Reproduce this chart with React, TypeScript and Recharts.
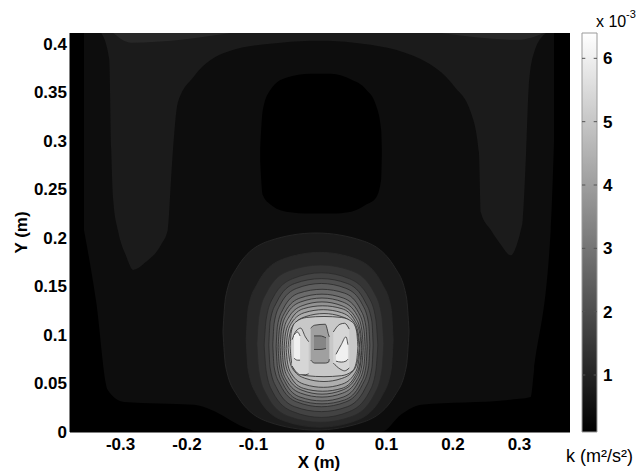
import { Area, ComposedChart, ReferenceArea, ReferenceLine, XAxis, YAxis } from "recharts"

// contour levels of k, in units of 10^-3 m²/s²
const kLevels = [0.1, 0.43, 0.76, 1.09, 1.42, 1.75, 2.08, 2.41, 2.74, 3.07, 3.4, 3.73, 4.06, 4.39, 4.72, 5.05, 5.38, 5.71, 6.04]
const K_MIN = 0.1
const K_MAX = 6.4

const xTicks = [-0.3, -0.2, -0.1, 0, 0.1, 0.2, 0.3]
const yTicks = [0, 0.05, 0.1, 0.15, 0.2, 0.25, 0.3, 0.35, 0.4]
const kTicks = [1, 2, 3, 4, 5, 6]

// each shape: [x, y low, y high] in metres
type Pt = [number, number, number]

const wholePlane: Pt[] = [[-0.376, 0, 0.411], [0.376, 0, 0.411]]

const innerField: Pt[] = [
  [-0.355, 0.208, 0.411], [-0.337, 0.136, 0.411], [-0.319, 0.043, 0.411], [-0.295, 0.031, 0.411],
  [-0.189, 0.028, 0.411], [-0.164, 0.023, 0.411], [-0.114, 0.005, 0.411], [-0.089, 0, 0.411],
  [0.092, 0, 0.411], [0.122, 0.018, 0.411], [0.152, 0.028, 0.411], [0.283, 0.033, 0.411],
  [0.317, 0.036, 0.411], [0.322, 0.064, 0.411], [0.347, 0.208, 0.411], [0.352, 0.3, 0.411],
]

const upperBand: Pt[] = [
  [-0.329, 0.411, 0.411], [-0.317, 0.384, 0.411], [-0.314, 0.291, 0.411], [-0.311, 0.239, 0.411],
  [-0.304, 0.208, 0.411], [-0.292, 0.182, 0.411], [-0.281, 0.167, 0.411], [-0.262, 0.175, 0.411],
  [-0.239, 0.193, 0.411], [-0.229, 0.208, 0.411], [-0.224, 0.26, 0.411], [-0.22, 0.301, 0.411],
  [-0.214, 0.339, 0.411], [-0.19, 0.366, 0.411], [-0.138, 0.392, 0.411], [-0.059, 0.401, 0.411],
  [0, 0.403, 0.411], [0.051, 0.401, 0.411], [0.152, 0.384, 0.411], [0.202, 0.356, 0.411],
  [0.227, 0.329, 0.411], [0.239, 0.288, 0.411], [0.242, 0.226, 0.411], [0.257, 0.208, 0.411],
  [0.272, 0.193, 0.411], [0.287, 0.182, 0.411], [0.296, 0.193, 0.411], [0.302, 0.208, 0.411],
  [0.305, 0.219, 0.411], [0.31, 0.288, 0.411], [0.314, 0.356, 0.411], [0.322, 0.391, 0.411],
  [0.34, 0.411, 0.411],
]

const topWedgeLeft: Pt[] = [[-0.311, 0.411, 0.411], [-0.284, 0.401, 0.411], [-0.134, 0.411, 0.411]]
const topWedgeRight: Pt[] = [[0.182, 0.411, 0.411], [0.298, 0.404, 0.411], [0.337, 0.411, 0.411]]

const upperHole: Pt[] = [
  [-0.09, 0.28, 0.291], [-0.086, 0.244, 0.332], [-0.074, 0.234, 0.353], [-0.051, 0.227, 0.365],
  [-0.014, 0.225, 0.369], [0.017, 0.225, 0.369], [0.047, 0.227, 0.363], [0.069, 0.234, 0.353],
  [0.084, 0.241, 0.337], [0.092, 0.26, 0.311], [0.093, 0.286, 0.291],
]

// jet contours, outermost (level 2) to plateau (level 15)
const ring02: Pt[] = [[-0.146, 0.1035, 0.1035], [-0.142, 0.068, 0.139], [-0.125, 0.038, 0.169], [-0.076, 0.01, 0.197], [-0.006, 0.002, 0.205], [0.064, 0.01, 0.197], [0.113, 0.038, 0.169], [0.13, 0.068, 0.139], [0.134, 0.1035, 0.1035]]
const ring03: Pt[] = [[-0.111, 0.095, 0.095], [-0.108, 0.064, 0.127], [-0.094, 0.037, 0.153], [-0.056, 0.012, 0.178], [0, 0.005, 0.185], [0.055, 0.012, 0.178], [0.093, 0.037, 0.153], [0.107, 0.064, 0.127], [0.11, 0.095, 0.095]]
const ring04: Pt[] = [[-0.095, 0.091, 0.091], [-0.092, 0.063, 0.119], [-0.081, 0.039, 0.143], [-0.047, 0.016, 0.166], [0.001, 0.01, 0.172], [0.048, 0.016, 0.166], [0.082, 0.039, 0.143], [0.093, 0.063, 0.119], [0.096, 0.091, 0.091]]
const ring05: Pt[] = [[-0.084, 0.0895, 0.0895], [-0.081, 0.063, 0.116], [-0.071, 0.041, 0.138], [-0.041, 0.021, 0.158], [0.002, 0.015, 0.164], [0.044, 0.021, 0.158], [0.074, 0.041, 0.138], [0.084, 0.063, 0.116], [0.087, 0.0895, 0.0895]]
const ring06: Pt[] = [[-0.077, 0.0895, 0.0895], [-0.075, 0.066, 0.114], [-0.065, 0.045, 0.134], [-0.038, 0.026, 0.153], [0.002, 0.021, 0.158], [0.041, 0.026, 0.153], [0.068, 0.045, 0.134], [0.078, 0.066, 0.114], [0.08, 0.0895, 0.0895]]
const ring07: Pt[] = [[-0.071, 0.0895, 0.0895], [-0.069, 0.067, 0.112], [-0.06, 0.049, 0.131], [-0.035, 0.031, 0.148], [0.002, 0.026, 0.153], [0.039, 0.031, 0.148], [0.064, 0.049, 0.131], [0.073, 0.067, 0.112], [0.075, 0.0895, 0.0895]]
const ring08: Pt[] = [[-0.066, 0.088, 0.088], [-0.064, 0.067, 0.109], [-0.056, 0.05, 0.126], [-0.032, 0.033, 0.143], [0.003, 0.029, 0.147], [0.037, 0.033, 0.143], [0.061, 0.05, 0.126], [0.069, 0.067, 0.109], [0.071, 0.088, 0.088]]
const ring09: Pt[] = [[-0.063, 0.087, 0.087], [-0.061, 0.068, 0.106], [-0.053, 0.052, 0.123], [-0.03, 0.036, 0.138], [0.003, 0.032, 0.142], [0.035, 0.036, 0.138], [0.058, 0.052, 0.123], [0.066, 0.068, 0.106], [0.068, 0.087, 0.087]]
const ring10: Pt[] = [[-0.06, 0.087, 0.087], [-0.058, 0.069, 0.105], [-0.051, 0.054, 0.12], [-0.029, 0.04, 0.134], [0.003, 0.036, 0.138], [0.034, 0.04, 0.134], [0.056, 0.054, 0.12], [0.063, 0.069, 0.105], [0.065, 0.087, 0.087]]
const ring11: Pt[] = [[-0.057, 0.0865, 0.0865], [-0.055, 0.07, 0.103], [-0.048, 0.056, 0.117], [-0.027, 0.043, 0.13], [0.003, 0.039, 0.134], [0.033, 0.043, 0.13], [0.054, 0.056, 0.117], [0.061, 0.07, 0.103], [0.063, 0.0865, 0.0865]]
const ring12: Pt[] = [[-0.054, 0.086, 0.086], [-0.052, 0.071, 0.101], [-0.045, 0.058, 0.114], [-0.025, 0.045, 0.127], [0.004, 0.042, 0.13], [0.033, 0.045, 0.127], [0.053, 0.058, 0.114], [0.06, 0.071, 0.101], [0.062, 0.086, 0.086]]
const ring13: Pt[] = [[-0.051, 0.086, 0.086], [-0.049, 0.072, 0.1], [-0.043, 0.06, 0.112], [-0.023, 0.049, 0.123], [0.005, 0.046, 0.126], [0.032, 0.049, 0.123], [0.052, 0.06, 0.112], [0.058, 0.072, 0.1], [0.06, 0.086, 0.086]]
const ring14: Pt[] = [[-0.048, 0.087, 0.087], [-0.046, 0.075, 0.099], [-0.04, 0.064, 0.11], [-0.021, 0.055, 0.119], [0.006, 0.052, 0.122], [0.032, 0.055, 0.119], [0.051, 0.064, 0.11], [0.057, 0.075, 0.099], [0.059, 0.087, 0.087]]
const ring15: Pt[] = [[-0.045, 0.088, 0.088], [-0.043, 0.073, 0.104], [-0.037, 0.063, 0.113], [-0.02, 0.058, 0.118], [0.006, 0.057, 0.119], [0.032, 0.058, 0.118], [0.049, 0.063, 0.113], [0.055, 0.073, 0.104], [0.057, 0.088, 0.088]]

const centreColumn: Pt[] = [[-0.014, 0.074, 0.107], [-0.008, 0.071, 0.11], [0.008, 0.071, 0.111], [0.013, 0.072, 0.1], [0.014, 0.075, 0.098]]
const centreSpot: Pt[] = [[-0.009, 0.085, 0.099], [0, 0.085, 0.099], [0.009, 0.086, 0.097]]
const leftSpot: Pt[] = [[-0.042, 0.068, 0.095], [-0.036, 0.062, 0.104], [-0.029, 0.059, 0.107], [-0.022, 0.059, 0.098], [-0.017, 0.06, 0.093]]
const leftCore: Pt[] = [[-0.039, 0.076, 0.1], [-0.034, 0.074, 0.103], [-0.03, 0.074, 0.099]]
const rightSpot: Pt[] = [[0.02, 0.071, 0.103], [0.03, 0.065, 0.111], [0.037, 0.063, 0.112], [0.044, 0.066, 0.106]]
const rightCore: Pt[] = [[0.024, 0.073, 0.08], [0.032, 0.072, 0.09], [0.039, 0.073, 0.098], [0.042, 0.075, 0.09]]

// painter's order: [shape, contour level index, draw contour line]
const layers: [Pt[], number, boolean][] = [
  [wholePlane, 0, false], [innerField, 1, false], [upperBand, 2, false],
  [topWedgeLeft, 3, false], [topWedgeRight, 3, false], [upperHole, 0, false],
  [ring02, 2, true], [ring03, 3, true], [ring04, 4, true], [ring05, 5, true], [ring06, 6, true],
  [ring07, 7, true], [ring08, 8, true], [ring09, 9, true], [ring10, 10, true], [ring11, 11, true],
  [ring12, 12, true], [ring13, 13, true], [ring14, 14, true], [ring15, 15, true],
  [centreColumn, 12, true], [centreSpot, 10, true], [leftSpot, 16, true], [leftCore, 18, true],
  [rightSpot, 16, true], [rightCore, 18, true],
]

const grey = (k: number) => {
  const g = Math.round(((k - K_MIN) / (K_MAX - K_MIN)) * 255)
  return `rgb(${g},${g},${g})`
}

const toRows = (pts: Pt[]) => pts.map(([x, lo, hi]) => ({ x, k: [lo, hi] }))

const font = { fontFamily: "Liberation Sans, Arial, sans-serif", fontWeight: 700, fontSize: 17, fill: "#000" }

const XLabel = (props: any) => {
  const vb = props.viewBox
  return <text x={vb.x + vb.width / 2 - 1} y={vb.y + 36} textAnchor="middle" style={font}>X (m)</text>
}

const YLabel = (props: any) => {
  const vb = props.viewBox
  const cy = vb.y + vb.height / 2
  return <text x={27} y={cy} textAnchor="middle" transform={`rotate(-90, 27, ${cy})`} style={font}>Y (m)</text>
}

const BarLabels = (props: any) => {
  const vb = props.viewBox
  return (
    <g>
      <text x={vb.x - 1} y={vb.y - 6} style={{ ...font, fontWeight: 400, fontSize: 16 }}>x 10</text>
      <text x={vb.x + 29} y={vb.y - 15} style={{ ...font, fontWeight: 400, fontSize: 11 }}>-3</text>
      <text x={vb.x - 31} y={vb.y + vb.height + 30} style={{ ...font, fontWeight: 400, fontSize: 18 }}>k (m²/s²)</text>
    </g>
  )
}

const barRows = [{ x: 0, k: [K_MIN, K_MAX] }, { x: 1, k: [K_MIN, K_MAX] }]

export default function App() {
  return (
    <div style={{ position: "absolute", left: 0, top: 0, width: 641, height: 474, background: "#fff" }}>
      <div style={{ position: "absolute", left: 0, top: 0 }}>
        <ComposedChart width={580} height={474} margin={{ top: 33, right: 10, bottom: 0, left: 0 }}>
          <XAxis type="number" dataKey="x" domain={[-0.376, 0.376]} ticks={xTicks} interval={0}
            allowDataOverflow tickLine={false} tickSize={0} tickMargin={6} height={42}
            axisLine={{ stroke: "#000" }} tick={font} label={<XLabel />} />
          <XAxis xAxisId="top" orientation="top" type="number" domain={[-0.376, 0.376]} height={0}
            tick={false} tickLine={false} axisLine={{ stroke: "#b4b4b4" }} />
          <YAxis type="number" domain={[0, 0.411]} ticks={yTicks} interval={0} allowDataOverflow
            tickLine={false} tickSize={0} tickMargin={3} width={70}
            axisLine={{ stroke: "#000" }} tick={font} label={<YLabel />} />
          <YAxis yAxisId="right" orientation="right" type="number" domain={[0, 0.411]} width={0}
            tick={false} tickLine={false} axisLine={{ stroke: "#b4b4b4" }} />
          {layers.map(([pts, level, line], i) => (
            <Area key={i} data={toRows(pts)} dataKey="k" type="monotone"
              fill={grey(kLevels[level])} fillOpacity={1}
              stroke={line ? "#2a2a2a" : "none"} strokeWidth={0.8}
              dot={false} activeDot={false} isAnimationActive={false} />
          ))}
        </ComposedChart>
      </div>
      <div style={{ position: "absolute", left: 560, top: 0 }}>
        <ComposedChart width={81} height={474} margin={{ top: 33, right: 0, bottom: 42, left: 22 }}>
          <defs>
            <linearGradient id="kGrey" x1="0" y1="1" x2="0" y2="0">
              <stop offset="0%" stopColor="#000" />
              <stop offset="100%" stopColor="#fff" />
            </linearGradient>
          </defs>
          <XAxis type="number" dataKey="x" domain={[0, 1]} hide />
          <YAxis orientation="right" type="number" domain={[K_MIN, K_MAX]} ticks={kTicks} interval={0}
            allowDataOverflow tickLine={false} tickSize={0} tickMargin={6} width={44}
            axisLine={false} tick={font} label={<BarLabels />} />
          <Area data={barRows} dataKey="k" type="linear" fill="url(#kGrey)" fillOpacity={1}
            stroke="none" dot={false} activeDot={false} isAnimationActive={false} />
          {kTicks.map((t) => (
            <ReferenceLine key={`l${t}`} segment={[{ x: 0, y: t }, { x: 0.22, y: t }]} stroke="#555" />
          ))}
          {kTicks.map((t) => (
            <ReferenceLine key={`r${t}`} segment={[{ x: 0.78, y: t }, { x: 1, y: t }]} stroke="#555" />
          ))}
          <ReferenceArea x1={0} x2={1} y1={K_MIN} y2={K_MAX} fill="none" stroke="#9a9a9a" />
        </ComposedChart>
      </div>
    </div>
  )
}
